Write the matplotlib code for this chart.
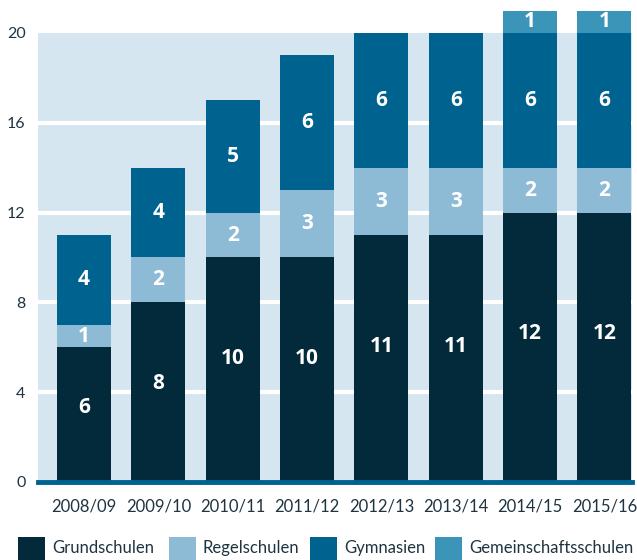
import numpy as np
import matplotlib.pyplot as plt
from matplotlib.patches import Rectangle

# data
years = ['2008/09', '2009/10', '2010/11', '2011/12', '2012/13', '2013/14', '2014/15', '2015/16']
grundschulen = [6, 8, 10, 10, 11, 11, 12, 12]
regelschulen = [1, 2, 2, 3, 3, 3, 2, 2]
gymnasien = [4, 4, 5, 6, 6, 6, 6, 6]
gemeinschaftsschulen = [0, 0, 0, 0, 0, 0, 1, 1]
series_names = ['Grundschulen', 'Regelschulen', 'Gymnasien', 'Gemeinschaftsschulen']
yticks = [0, 4, 8, 12, 16, 20]

colors = ['#022a3a', '#8dbbd5', '#00628f', '#3b95b9']
bg = '#d5e6f0'
txt = '#1f3340'

plt.rcParams['font.family'] = ['Lato', 'DejaVu Sans']

fig = plt.figure(figsize=(6.37, 5.6), dpi=100)
ax = fig.add_axes([0.0597, 0.1393, 0.9323, 0.8018])
ax.set_facecolor(bg)

x = np.arange(len(years))
width = 0.727
bottom = np.zeros(len(years))
label_pos = [0.55, 0.5, 0.5, 0.5]
for vals, c, lp in zip([grundschulen, regelschulen, gymnasien, gemeinschaftsschulen], colors, label_pos):
    vals = np.array(vals, dtype=float)
    ax.bar(x, vals, width, bottom=bottom, color=c, zorder=3, clip_on=False, linewidth=0)
    for xi, v, b in zip(x, vals, bottom):
        if v > 0:
            ax.text(xi, b + v * lp, str(int(v)), ha='center', va='center', color='white',
                    fontsize=15, fontweight='bold', family=['Open Sans', 'DejaVu Sans'],
                    zorder=5, clip_on=False)
    bottom += vals

for yt in yticks[1:-1]:
    ax.axhline(yt, color='white', linewidth=3, zorder=2)
ax.axhline(0, color='#00628f', linewidth=3.5, zorder=4, clip_on=False)

ax.set_xlim(-0.62, 7.37)
ax.set_ylim(0, 20)
ax.set_yticks(yticks)
ax.set_xticks(x)
ax.set_xticklabels(years)
ax.tick_params(axis='both', length=0, labelsize=11.5, labelcolor=txt)
ax.tick_params(axis='x', pad=12, labelsize=12)
ax.tick_params(axis='y', pad=9)
for s in ax.spines.values():
    s.set_visible(False)

# legend, drawn by hand to keep the spacing of the original
W, H = 637.0, 560.0
leg_x = [18, 169, 310, 435]
for lx, name, c in zip(leg_x, series_names, colors):
    fig.patches.append(Rectangle((lx / W, 0), 27 / W, 23 / H, transform=fig.transFigure,
                                 facecolor=c, edgecolor='none'))
    fig.text((lx + 34) / W, (H - 548) / H, name, ha='left', va='center',
             fontsize=12, color=txt)

fig.savefig('out.png', dpi=100)
